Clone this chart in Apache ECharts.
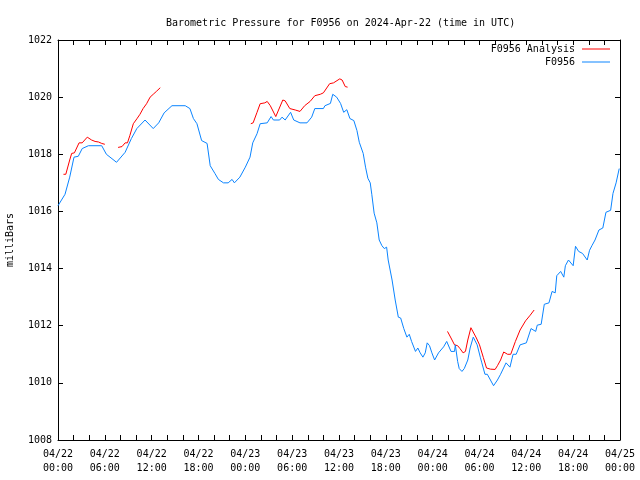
<!DOCTYPE html>
<html>
<head>
<meta charset="utf-8">
<script src="https://cdn.jsdelivr.net/npm/echarts@6/dist/echarts.min.js"></script>
<style>html,body{margin:0;padding:0;background:#fff}#c{width:640px;height:480px}</style>
</head>
<body>
<div id="c"></div>
<script>
// Hours since 2024-04-22 00:00 UTC
const xTickLabels = ['04/22\n00:00','04/22\n06:00','04/22\n12:00','04/22\n18:00','04/23\n00:00','04/23\n06:00','04/23\n12:00','04/23\n18:00','04/24\n00:00','04/24\n06:00','04/24\n12:00','04/24\n18:00','04/25\n00:00'];

const obsHours = [0,0.9,1.5,2.05,2.6,3.1,3.9,5.6,6.2,7.5,8.6,9.4,10.1,11.15,12.2,12.9,13.6,14.6,16.3,16.9,17.35,17.8,18.4,19.1,19.5,20.1,20.55,21.2,21.8,22.3,22.6,23.3,24.0,24.6,24.95,25.5,25.9,26.8,27.3,27.6,28.4,28.7,29.1,29.8,30.2,31.0,31.9,32.5,32.9,34.0,34.2,34.9,35.2,35.7,36.2,36.6,37.0,37.4,37.9,38.3,38.6,39.1,39.4,39.7,40.0,40.2,40.5,40.85,41.15,41.5,41.8,42.1,42.3,42.8,43.2,43.6,43.9,44.3,44.7,45.0,45.3,45.8,46.1,46.4,46.75,47.05,47.3,47.6,47.9,48.25,48.75,49.4,49.8,50.0,50.35,50.8,50.9,51.2,51.4,51.75,52.05,52.5,52.8,53.2,53.7,53.9,54.1,54.3,54.7,55.0,55.4,55.8,56.0,56.3,56.7,57.4,57.9,58.3,58.7,59.2,60.0,60.2,60.6,61.2,61.4,61.9,62.3,62.9,63.3,63.7,63.9,64.4,64.8,65.0,65.4,66.0,66.3,66.7,67.2,67.8,68.1,68.4,68.8,69.3,69.8,70.2,70.8,71.1,71.5,71.9];
const obsValues = [1016.2,1016.6,1017.2,1017.9,1017.93,1018.2,1018.3,1018.3,1018.0,1017.72,1018.07,1018.55,1018.9,1019.2,1018.9,1019.1,1019.45,1019.7,1019.7,1019.6,1019.25,1019.07,1018.48,1018.38,1017.6,1017.33,1017.12,1017.0,1017.0,1017.12,1017.0,1017.2,1017.55,1017.9,1018.4,1018.72,1019.07,1019.1,1019.32,1019.2,1019.2,1019.3,1019.2,1019.47,1019.2,1019.1,1019.1,1019.3,1019.6,1019.6,1019.7,1019.78,1020.1,1020.0,1019.78,1019.47,1019.56,1019.25,1019.18,1018.83,1018.42,1018.03,1017.55,1017.16,1017.0,1016.6,1015.94,1015.6,1015.0,1014.8,1014.7,1014.75,1014.3,1013.6,1012.9,1012.3,1012.27,1011.9,1011.6,1011.7,1011.45,1011.1,1011.22,1011.05,1010.9,1011.05,1011.4,1011.3,1011.05,1010.8,1011.05,1011.26,1011.45,1011.5,1011.1,1011.1,1011.33,1010.75,1010.5,1010.4,1010.5,1010.8,1011.22,1011.6,1011.33,1011.3,1010.9,1010.7,1010.3,1010.3,1010.1,1009.9,1009.9,1010.1,1010.3,1010.7,1010.55,1011.0,1011.0,1011.33,1011.4,1011.35,1011.9,1011.8,1012.02,1012.05,1012.75,1012.8,1013.2,1013.15,1013.75,1013.9,1013.7,1014.1,1014.3,1014.1,1014.78,1014.6,1014.53,1014.3,1014.64,1014.8,1015.0,1015.35,1015.42,1015.97,1016.04,1016.63,1017.0,1017.5];

const anaHours = [0.7,1.0,1.5,1.75,2.1,2.7,3.1,3.75,4.3,4.75,5.2,5.6,6.0, 6.8, 7.7,8.2,8.6,8.9,9.2,9.65,10.1,10.5,10.9,11.35,11.8,12.2,12.6,13.1, 18, 24.7,25.0,25.5,25.9,26.5,26.8,27.2,27.9,28.8,29.1,29.7,30.4,31.0,31.6,32.3,32.9,33.6,34.0,34.8,35.3,36.1,36.4,36.8,37.1, 43, 49.9,50.35,50.8,51.2,51.5,51.9,52.2,52.5,52.9,53.15,53.6,54.0,54.2,54.5,54.9,55.4,56.0,56.3,56.7,57.1,57.6,58.0,58.6,59.2,59.9,60.5,61.0];
const anaValues = [1017.3,1017.3,1017.8,1018.03,1018.05,1018.4,1018.4,1018.6,1018.5,1018.45,1018.43,1018.38,1018.35, null, 1018.24,1018.27,1018.4,1018.4,1018.65,1019.07,1019.24,1019.4,1019.6,1019.77,1020.0,1020.1,1020.2,1020.33, null, 1019.07,1019.1,1019.47,1019.77,1019.8,1019.85,1019.7,1019.32,1019.9,1019.87,1019.6,1019.55,1019.5,1019.7,1019.85,1020.05,1020.1,1020.15,1020.47,1020.5,1020.64,1020.6,1020.37,1020.35, null, 1011.8,1011.57,1011.33,1011.3,1011.2,1011.05,1011.1,1011.5,1011.93,1011.93,1011.57,1011.33,1011.3,1010.88,1010.52,1010.48,1010.47,1010.6,1010.8,1011.08,1011.0,1011.0,1011.45,1011.85,1012.17,1012.37,1012.55];

const FONT = 'DejaVu Sans Mono';
const pair = (xs, ys) => xs.map((x, i) => [x, ys[i]]);

const chart = echarts.init(document.getElementById('c'), null, {renderer: 'canvas'});
const axisCommon = {
  axisLine: {show: true, onZero: false, lineStyle: {color: '#000', width: 1}},
  axisTick: {show: true, inside: true, length: 5, lineStyle: {color: '#000'}},
  splitLine: {show: false}
};
chart.setOption({
  animation: false,
  backgroundColor: '#fff',
  title: {
    text: 'Barometric Pressure for F0956 on 2024-Apr-22 (time in UTC)',
    left: 161, top: 13,
    textStyle: {fontFamily: FONT, fontSize: 10, fontWeight: 'normal', color: '#000'}
  },
  legend: {
    orient: 'vertical', right: 30, top: 44, align: 'right', padding: 0,
    itemWidth: 28, itemHeight: 1, itemGap: 3, icon: 'rect',
    textStyle: {fontFamily: FONT, fontSize: 10, color: '#000', padding: [0, 2, 0, 0]},
    data: ['F0956 Analysis', 'F0956']
  },
  grid: {left: 58, right: 20, top: 40, bottom: 40, containLabel: false, outerBoundsMode: 'none'},
  xAxis: [
    Object.assign({}, axisCommon, {
      type: 'value', min: 0, max: 72, interval: 2, position: 'bottom',
      axisLabel: {
        fontFamily: FONT, fontSize: 10, color: '#000', margin: 7, lineHeight: 14,
        formatter: v => (v % 6 === 0 ? xTickLabels[v / 6] : '')
      }
    }),
    Object.assign({}, axisCommon, {
      type: 'value', min: 0, max: 72, interval: 2, position: 'top',
      axisLabel: {show: false}
    })
  ],
  yAxis: [
    Object.assign({}, axisCommon, {
      type: 'value', min: 1008, max: 1022, interval: 2, position: 'left',
      name: 'milliBars', nameLocation: 'middle', nameGap: 43, nameRotate: 90,
      nameTextStyle: {fontFamily: FONT, fontSize: 10, color: '#000'},
      axisLabel: {fontFamily: FONT, fontSize: 10, color: '#000', margin: 6, formatter: v => String(v)}
    }),
    Object.assign({}, axisCommon, {
      type: 'value', min: 1008, max: 1022, interval: 2, position: 'right',
      axisLabel: {show: false}
    })
  ],
  series: [
    {
      name: 'F0956 Analysis', type: 'line', xAxisIndex: 0, yAxisIndex: 0,
      data: pair(anaHours, anaValues), connectNulls: false,
      symbol: 'none', showSymbol: false,
      lineStyle: {color: '#ff0000', width: 1}, itemStyle: {color: '#ff0000'}
    },
    {
      name: 'F0956', type: 'line', xAxisIndex: 0, yAxisIndex: 0,
      data: pair(obsHours, obsValues),
      symbol: 'none', showSymbol: false,
      lineStyle: {color: '#0a84ff', width: 1}, itemStyle: {color: '#0a84ff'}
    }
  ]
});
</script>
</body>
</html>
